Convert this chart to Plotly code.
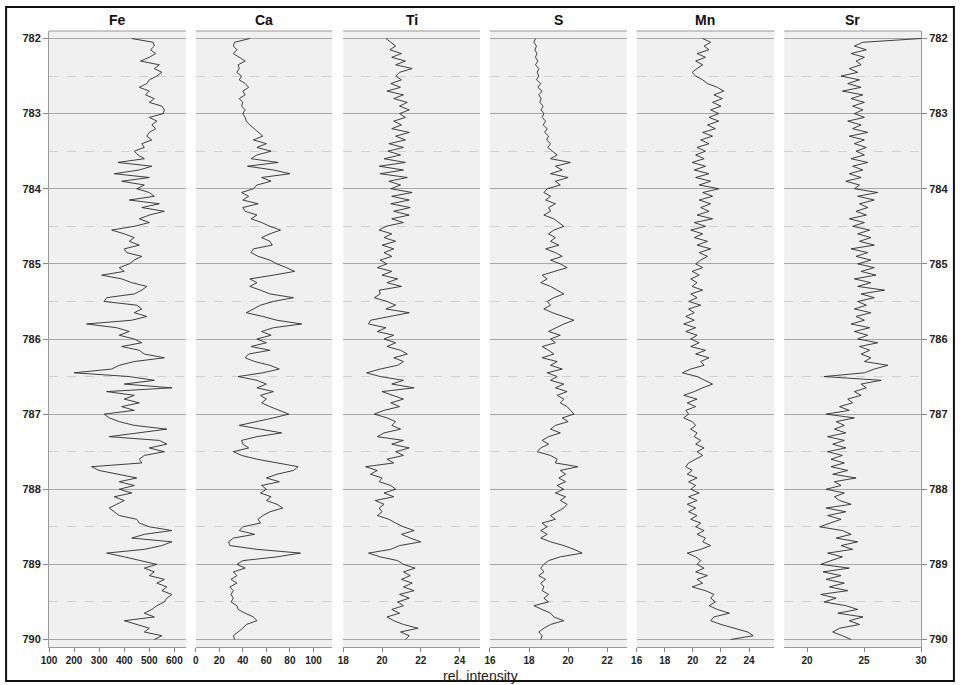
import plotly.graph_objects as go

# depth grid (m), 0.05 m sampling
depth = [round(782 + i * 0.05, 2) for i in range(161)]

fe = [430,515,520,505,525,500,465,540,520,550,530,500,490,460,500,485,520,500,550,560,
      555,500,530,510,525,500,490,510,470,480,440,455,480,375,510,460,360,500,390,480,
      450,500,520,420,540,470,560,500,460,500,440,350,400,440,420,460,400,410,470,440,
      420,380,400,310,390,430,490,470,440,330,320,450,470,440,490,430,250,370,420,380,
      440,470,390,460,480,560,440,380,350,200,420,520,400,590,330,440,400,460,390,440,
      320,340,380,440,570,450,340,540,570,500,560,480,460,470,270,300,370,450,380,440,
      380,430,360,400,370,340,360,380,450,460,500,590,480,430,590,550,480,330,400,470,
      530,480,520,500,560,530,570,550,590,570,560,530,510,480,520,400,450,500,480,550,
      520]

ca = [46,33,32,35,32,37,42,36,37,35,39,37,42,45,40,42,37,40,39,42,
      40,42,43,46,50,53,57,49,60,52,64,52,47,70,44,66,80,56,64,52,
      49,39,45,40,53,40,42,52,47,56,63,72,63,56,63,65,49,47,53,63,
      69,77,84,66,46,52,46,55,63,83,66,55,49,43,57,69,90,66,56,64,
      52,60,47,63,45,42,50,63,71,57,36,52,60,52,66,55,60,56,63,71,
      79,66,52,37,55,73,52,39,40,45,32,39,52,69,87,83,69,60,71,56,
      60,55,64,60,69,74,63,57,53,55,40,37,50,32,28,29,52,89,69,40,
      35,42,32,35,30,35,29,32,30,32,30,35,36,42,49,52,43,40,36,32,
      33]

ti = [20.2,20.45,20.7,20.4,21.0,20.5,21.2,20.7,21.55,20.9,20.7,21.0,20.45,20.95,20.25,21.1,20.6,21.3,20.9,21.4,
      20.9,21.2,20.6,21.0,20.5,21.4,20.7,21.2,20.35,21.1,20.3,20.95,20.1,21.2,19.85,21.1,19.9,21.3,20.35,20.95,
      20.45,21.55,20.5,21.4,20.45,21.45,20.6,21.4,20.5,21.1,20.2,19.85,20.5,20.1,20.7,20.0,20.6,20.1,20.5,19.9,
      20.25,19.75,20.5,20.0,20.8,20.25,21.0,19.85,19.9,19.6,20.25,20.7,20.2,21.4,20.35,19.4,19.3,20.2,19.75,20.6,
      20.1,20.7,20.25,20.95,21.3,20.6,21.1,20.8,19.9,19.2,19.9,21.1,20.5,21.65,20.0,20.5,21.1,20.45,20.9,20.1,
      19.6,20.25,20.7,20.5,20.95,20.1,19.75,21.1,20.5,21.4,20.7,21.1,20.25,20.6,19.15,19.75,19.4,20.0,19.85,20.45,
      20.7,20.1,20.6,19.65,20.1,19.85,20.0,19.75,20.35,20.7,21.1,21.65,21.0,21.45,22.0,20.9,20.45,19.3,19.9,20.8,
      21.1,21.7,21.1,21.45,21.0,21.55,21.1,21.65,20.9,21.4,20.8,21.1,20.5,20.9,20.25,20.6,21.1,21.85,20.95,21.4,
      21.2]

s = [18.33,18.25,18.38,18.3,18.4,18.33,18.45,18.33,18.5,18.42,18.5,18.38,18.6,18.45,18.67,18.5,18.62,18.55,18.72,18.62,
     18.76,18.67,18.85,18.72,18.93,18.8,19.0,18.9,19.1,18.96,19.2,19.44,19.1,20.12,19.35,19.7,19.1,20.0,19.35,19.6,
     18.93,18.76,19.1,18.85,19.35,19.0,19.1,18.76,19.27,19.53,19.78,19.27,19.0,19.35,19.1,19.53,18.85,19.35,19.7,19.1,
     19.6,19.95,19.35,18.67,18.93,18.6,19.1,19.44,19.78,19.27,18.93,19.1,18.76,19.2,19.7,20.3,19.78,19.35,19.0,19.6,
     19.1,19.35,18.67,19.0,19.27,18.67,19.44,19.1,19.7,18.93,19.44,19.1,19.78,19.35,19.95,19.44,19.78,19.6,19.95,20.12,
     20.3,19.7,20.0,19.35,19.1,19.6,19.0,18.67,19.0,18.6,18.42,19.1,19.44,19.35,20.5,19.6,19.87,19.53,19.87,19.44,
     19.78,19.35,19.87,19.6,19.95,19.78,19.44,19.1,19.35,18.67,18.93,18.6,18.93,18.6,19.1,19.78,20.3,20.72,19.6,19.0,
     18.76,18.6,18.76,18.5,18.85,18.6,18.76,18.67,19.0,18.76,19.0,18.25,18.67,19.1,19.27,19.78,19.1,18.76,18.5,18.67,
     18.6]

mn = [20.7,21.27,20.8,21.15,20.3,20.9,20.2,20.7,20.3,19.95,20.2,20.7,21.04,21.75,22.2,21.5,22.1,21.4,22.0,21.27,
      21.85,21.15,21.85,21.04,21.6,20.7,21.4,20.56,21.15,20.3,20.9,20.2,20.8,19.95,20.9,20.1,21.15,20.2,21.27,20.45,
      21.85,20.7,21.4,20.45,21.27,20.56,21.15,20.3,21.4,20.1,20.9,19.85,20.7,20.1,21.04,20.3,21.27,20.45,21.04,20.56,
      20.2,20.7,19.95,20.45,19.85,20.3,19.95,20.7,19.85,20.3,19.7,20.56,19.7,20.1,19.5,20.1,19.35,20.2,19.5,20.3,
      19.85,20.45,19.85,20.9,20.2,21.15,20.56,20.8,19.85,19.25,20.3,20.9,21.4,20.7,20.1,19.35,20.3,19.6,20.2,19.5,
      19.7,19.35,19.95,20.2,19.85,20.3,20.1,20.56,20.2,20.8,20.3,20.7,20.2,19.7,19.5,19.95,19.6,20.3,19.7,20.2,
      19.85,20.45,19.7,20.3,19.6,20.2,19.7,20.3,19.85,20.56,20.2,20.8,20.3,20.9,20.7,21.27,20.56,19.6,20.2,20.56,
      20.3,20.8,20.2,21.04,20.3,20.7,19.95,20.9,21.5,21.27,21.6,21.15,21.75,22.6,21.5,21.27,22.0,22.9,23.9,24.3,
      22.7]

sr = [30.0,24.9,24.15,25.2,23.86,25.03,24.3,24.74,23.7,24.44,22.98,24.6,23.57,24.74,23.1,24.9,23.86,25.03,24.0,24.9,
      24.15,25.03,23.57,24.74,24.0,25.32,23.7,25.03,24.15,25.2,24.3,25.03,23.86,25.32,24.0,24.9,23.7,24.74,23.4,24.6,
      24.15,26.2,24.44,25.9,24.6,25.32,24.3,25.2,23.7,25.03,24.0,25.5,24.44,25.6,24.6,25.9,23.86,25.32,24.3,25.6,
      24.44,25.9,24.74,26.05,24.15,25.6,24.44,26.8,24.74,25.9,24.44,25.2,24.15,25.6,24.3,25.03,23.86,25.5,24.15,25.32,
      24.44,26.2,24.6,25.5,24.74,25.6,25.03,27.1,25.9,25.03,21.5,26.5,24.74,25.2,24.15,24.74,23.57,24.0,22.85,23.7,
      21.67,24.15,22.55,23.27,22.4,23.4,21.8,23.27,22.25,23.4,21.8,23.1,22.1,23.27,22.1,23.57,22.25,24.3,22.4,22.98,
      21.67,23.27,22.4,22.85,23.86,21.67,23.4,21.8,22.98,22.1,21.1,23.1,23.86,22.55,24.44,22.98,24.0,21.8,23.1,22.1,
      21.2,23.7,21.4,22.98,21.67,23.27,21.96,23.57,21.2,22.55,21.5,23.4,24.44,22.7,24.9,23.7,24.6,22.85,22.25,23.1,
      23.86]

names = ["Fe", "Ca", "Ti", "S", "Mn", "Sr"]
series = [fe, ca, ti, s, mn, sr]
xranges = [[100, 645], [0, 116], [18, 25.05], [16, 23], [16, 25.8], [18, 30]]
xticks = [[100, 200, 300, 400, 500, 600], [0, 20, 40, 60, 80, 100], [18, 20, 22, 24],
          [16, 18, 20, 22], [16, 18, 20, 22, 24], [20, 25, 30]]
depth_ticks = [782, 783, 784, 785, 786, 787, 788, 789, 790]

L, R, T, B = 49, 37, 31, 38
W, H = 960, 685
pw = W - L - R
ph = H - T - B
lefts = [49, 196, 344, 491, 638, 786]
widths = [137, 137, 137, 137, 138, 137]

FONT = "Liberation Sans, Arial, sans-serif"
fig = go.Figure()
layout = {}
for i, (nm, vals) in enumerate(zip(names, series)):
    xa = "x" if i == 0 else f"x{i+1}"
    ya = "y" if i == 0 else f"y{i+1}"
    fig.add_trace(go.Scatter(x=vals, y=depth, mode="lines", xaxis=xa, yaxis=ya,
                             line=dict(color="#2a2a2a", width=0.9), showlegend=False,
                             hoverinfo="skip"))
    d0 = (lefts[i] - L) / pw
    d1 = (lefts[i] + widths[i] - L) / pw
    xkey = "xaxis" if i == 0 else f"xaxis{i+1}"
    ykey = "yaxis" if i == 0 else f"yaxis{i+1}"
    layout[xkey] = dict(domain=[d0, min(d1, 1.0)], range=xranges[i], anchor=ya,
                        tickvals=xticks[i], ticks="outside", ticklen=4, tickcolor="#888",
                        showline=True, linecolor="#999", linewidth=1, mirror=False,
                        showgrid=False, zeroline=False,
                        tickfont=dict(family=FONT, size=10, color="#222", weight="bold"))
    side = "right" if i == 5 else "left"
    show_lbl = i in (0, 5)
    layout[ykey] = dict(domain=[0, 1], range=[790.1, 781.9], anchor=xa, side=side,
                        tickvals=depth_ticks, showticklabels=show_lbl,
                        ticks="outside" if show_lbl else "", ticklen=5, tickcolor="#888",
                        showline=show_lbl, linecolor="#999", linewidth=1,
                        showgrid=True, gridcolor="#a8a8a8", gridwidth=1,
                        zeroline=False,
                        minor=dict(dtick=0.5, tick0=782, showgrid=True, gridcolor="#cfcfd8",
                                   griddash="dash", gridwidth=1),
                        tickfont=dict(family=FONT, size=11, color="#222", weight="bold"))
    if i != 0:
        layout[ykey]["matches"] = "y"

fig.update_layout(**layout)

shapes = []
for i in range(6):
    d0 = (lefts[i] - L) / pw
    d1 = min((lefts[i] + widths[i] - L) / pw, 1.0)
    # plot background and top line of each panel
    shapes.append(dict(type="rect", xref="paper", yref="paper", x0=d0, x1=d1, y0=0, y1=1,
                       fillcolor="#f0f0f0", line=dict(width=0), layer="below"))
    shapes.append(dict(type="line", xref="paper", yref="paper", x0=d0, x1=d1, y0=1, y1=1,
                       line=dict(color="#999", width=1)))
# outer frame
shapes.append(dict(type="rect", xref="paper", yref="paper",
                   x0=(6 - L) / pw, x1=(956 - L) / pw,
                   y0=(H - B - 681) / ph, y1=(H - B - 7) / ph,
                   line=dict(color="#111", width=2), fillcolor="rgba(0,0,0,0)"))

annotations = []
for i, nm in enumerate(names):
    cx = (lefts[i] + widths[i] / 2 - L) / pw
    annotations.append(dict(text=nm, x=cx, y=(H - B - 20) / ph, xref="paper", yref="paper",
                            showarrow=False, xanchor="center", yanchor="middle",
                            font=dict(family=FONT, size=14, color="#111", weight="bold")))
annotations.append(dict(text="rel. intensity", x=(481 - L) / pw, y=(H - B - 676) / ph,
                        xref="paper", yref="paper", showarrow=False,
                        xanchor="center", yanchor="middle",
                        font=dict(family=FONT, size=14, color="#222")))

fig.update_layout(width=W, height=H, margin=dict(l=L, r=R, t=T, b=B),
                  paper_bgcolor="white", plot_bgcolor="rgba(0,0,0,0)",
                  shapes=shapes, annotations=annotations)

fig.write_html("out.html")
